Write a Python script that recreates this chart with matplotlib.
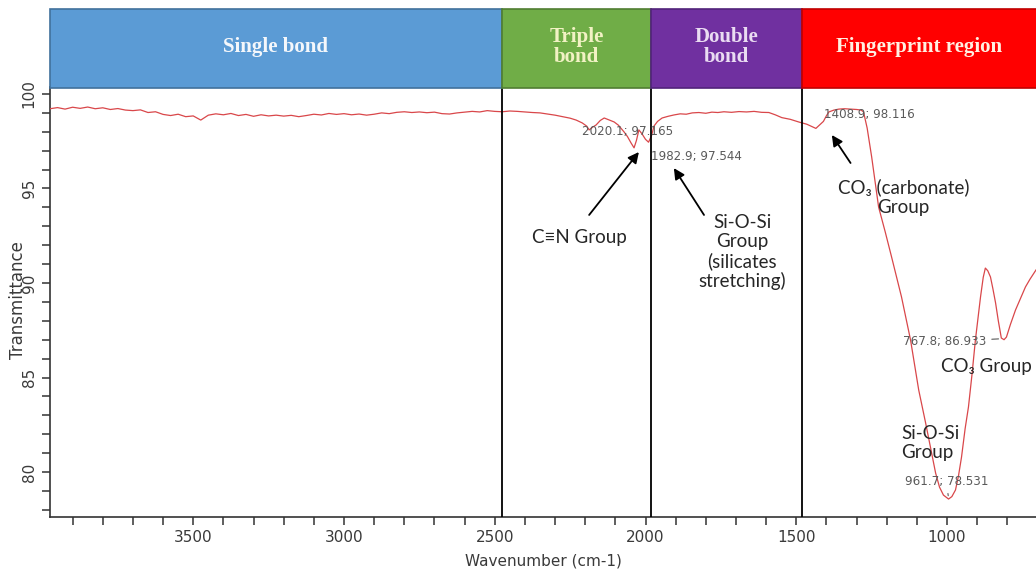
import numpy as np
import matplotlib
matplotlib.use('Agg')
import matplotlib.pyplot as plt
import matplotlib.transforms as mtransforms
from matplotlib.patches import Rectangle
from matplotlib.ticker import MultipleLocator

# spectrum: wavenumber (cm-1) -> transmittance
wavenumber = [3975, 3950, 3925, 3900, 3875, 3850, 3825, 3800, 3775, 3750,
              3725, 3700, 3675, 3650, 3625, 3600, 3575, 3550, 3525, 3500,
              3475, 3450, 3425, 3400, 3375, 3350, 3325, 3300, 3275, 3250,
              3225, 3200, 3175, 3150, 3125, 3100, 3075, 3050, 3025, 3000,
              2975, 2950, 2925, 2900, 2875, 2850, 2825, 2800, 2775, 2750,
              2725, 2700, 2675, 2650, 2625, 2600, 2575, 2550, 2525, 2500,
              2475, 2450, 2425, 2400, 2375, 2350, 2325, 2300, 2275, 2250,
              2230, 2210, 2195, 2187, 2175, 2164, 2150, 2137, 2120, 2104,
              2090, 2071, 2060, 2048, 2038, 2030, 2022, 2012, 2000, 1990,
              1980, 1972, 1960, 1945, 1925, 1906, 1885, 1865, 1845, 1823,
              1800, 1780, 1760, 1740, 1715, 1690, 1665, 1640, 1615, 1591,
              1570, 1548, 1520, 1492, 1465, 1445, 1435, 1420, 1410, 1400,
              1392, 1375, 1359, 1340, 1320, 1300, 1285, 1277, 1265, 1250,
              1227, 1205, 1184, 1151, 1121, 1094, 1071, 1055, 1038, 1025,
              1012, 995, 984, 972, 962, 952, 940, 929, 917, 906,
              897, 889, 880, 873, 865, 856, 848, 839, 830, 820,
              811, 803, 790, 773, 756, 740, 725, 705]
transmittance = [99.22, 99.28, 99.20, 99.30, 99.24, 99.31, 99.22, 99.27, 99.18, 99.23,
                 99.15, 99.12, 99.16, 99.02, 99.06, 98.92, 98.86, 98.93, 98.80, 98.84,
                 98.62, 98.88, 98.95, 98.90, 98.97, 98.86, 98.92, 98.82, 98.90, 98.84,
                 98.88, 98.83, 98.87, 98.80, 98.86, 98.93, 98.89, 98.97, 98.92, 98.96,
                 98.90, 98.94, 98.88, 98.93, 99.00, 98.96, 99.03, 99.06, 99.02, 99.05,
                 99.01, 99.04, 98.96, 98.94, 99.00, 99.04, 99.08, 99.05, 99.12, 99.08,
                 99.06, 99.10, 99.08, 99.05, 99.02, 99.00, 98.94, 98.88, 98.80, 98.72,
                 98.62, 98.47, 98.30, 98.10, 98.25, 98.36, 98.60, 98.73, 98.62, 98.52,
                 98.35, 97.99, 97.75, 97.41, 97.15, 97.55, 98.10, 97.90, 97.60, 97.45,
                 97.80, 98.30, 98.55, 98.73, 98.82, 98.89, 98.95, 98.93, 99.00, 99.02,
                 98.98, 99.04, 99.02, 99.06, 99.03, 99.07, 99.05, 99.08, 99.03, 99.02,
                 98.90, 98.75, 98.66, 98.52, 98.40, 98.25, 98.18, 98.40, 98.55, 98.85,
                 99.05, 99.15, 99.20, 99.22, 99.20, 99.18, 99.15, 99.05, 98.20, 96.67,
                 94.02, 92.70, 91.38, 89.26, 86.98, 84.34, 82.59, 81.30, 79.95, 79.20,
                 78.78, 78.57, 78.70, 79.05, 79.80, 80.79, 82.30, 83.44, 85.20, 86.98,
                 88.20, 89.26, 90.30, 90.79, 90.65, 90.32, 89.70, 88.94, 88.00, 87.09,
                 87.00, 87.14, 87.80, 88.57, 89.20, 89.79, 90.20, 90.69]

# header boxes above the plot
region_names = ['Single bond', 'Triple\nbond', 'Double\nbond', 'Fingerprint region']
region_edges = [3975, 2476, 1982, 1482, 705]

# peak picks printed by the instrument software
peak_labels = ['2020.1; 97.165', '1982.9; 97.544', '1408.9; 98.116',
               '767.8; 86.933', '961.7; 78.531']

# group assignments
group_labels = ['C≡N Group', 'Si-O-Si\nGroup\n(silicates\nstretching)',
                'CO₃ (carbonate)\nGroup', 'CO₃ Group', 'Si-O-Si\nGroup']


def draw():
    fig = plt.figure(figsize=(10.36, 5.72), dpi=100)
    ax = fig.add_axes([50 / 1036, 1 - 517 / 572, 986 / 1036, 430 / 572])
    ax.set_xlim(3975, 705)
    ax.set_ylim(77.62, 100.37)

    ax.plot(wavenumber, transmittance, color='#d9474a', lw=0.9, zorder=3)

    # boundaries between regions
    for x in region_edges[1:4]:
        ax.axvline(x, color='black', lw=1.3, zorder=4)

    # coloured header boxes (x in data, y in axes coordinates)
    trans = mtransforms.blended_transform_factory(ax.transData, ax.transAxes)
    box_colors = ['#5b9bd5', '#70ad47', '#7030a0', '#ff0000']
    box_edges = ['#41719c', '#507e32', '#51237a', '#c00000']
    text_colors = ['#f4f7fb', '#f2f2c4', '#eadcf2', '#fff0e2']
    for i, name in enumerate(region_names):
        x0 = region_edges[i]
        x1 = region_edges[i + 1]
        if i == 3:
            x1 = 600
        rect = Rectangle((x1, 0.997), x0 - x1, 0.185, transform=trans,
                         facecolor=box_colors[i], edgecolor=box_edges[i],
                         lw=1.2, clip_on=False, zorder=6)
        ax.add_patch(rect)
        xc = (region_edges[i] + region_edges[i + 1]) / 2
        ax.text(xc, 1.093, name, transform=trans, ha='center', va='center',
                fontfamily='Liberation Serif', fontweight='bold', fontsize=15,
                color=text_colors[i], linespacing=1.05, zorder=7, clip_on=False)

    # peak pick labels
    pk_kw = dict(fontsize=8.6, color='#5a5a5a', fontfamily='DejaVu Sans', zorder=5)
    ax.text(2210, 97.99, peak_labels[0], ha='left', va='center', **pk_kw)
    ax.text(1982, 96.67, peak_labels[1], ha='left', va='center', **pk_kw)
    ax.text(1409, 98.89, peak_labels[2], ha='left', va='center', **pk_kw)
    ax.annotate(peak_labels[3], xy=(820, 87.05), xytext=(870, 86.9),
                ha='right', va='center',
                arrowprops=dict(arrowstyle='-', color='#5a5a5a', lw=0.8), **pk_kw)
    ax.annotate(peak_labels[4], xy=(995, 78.6), xytext=(1002, 79.5),
                ha='center', va='center',
                arrowprops=dict(arrowstyle='-', color='#5a5a5a', lw=0.8), **pk_kw)

    # group labels with arrows
    g_kw = dict(fontsize=13.5, color='#262626', family=['Lato', 'DejaVu Sans'],
                ha='center', va='center', linespacing=1.15, zorder=5)
    arr = dict(arrowstyle='-|>', color='black', lw=1.3, mutation_scale=16,
               shrinkA=0, shrinkB=0)
    ax.text(2220, 92.43, group_labels[0], **g_kw)
    ax.annotate('', xy=(2022, 96.93), xytext=(2187, 93.6), arrowprops=arr, zorder=5)
    ax.text(1680, 91.64, group_labels[1], **g_kw)
    ax.annotate('', xy=(1906, 96.08), xytext=(1806, 93.6), arrowprops=arr, zorder=5)
    ax.text(1144, 94.55, group_labels[2], **g_kw)
    ax.annotate('', xy=(1382, 97.83), xytext=(1320, 96.35), arrowprops=arr, zorder=5)
    ax.text(869, 85.56, group_labels[3], **g_kw)
    g_kw['ha'] = 'left'
    ax.text(1151, 81.53, group_labels[4], **g_kw)

    # axes styling
    for s in ['top', 'right']:
        ax.spines[s].set_visible(False)
    for s in ['left', 'bottom']:
        ax.spines[s].set_color('#333333')
        ax.spines[s].set_linewidth(1.2)
    ax.xaxis.set_major_locator(MultipleLocator(500))
    ax.xaxis.set_minor_locator(MultipleLocator(100))
    ax.yaxis.set_major_locator(MultipleLocator(5))
    ax.yaxis.set_minor_locator(MultipleLocator(1))
    ax.tick_params(which='both', direction='out', length=6, width=1.1,
                   color='#333333', labelcolor='#3a3a3a', labelsize=11)
    ax.tick_params(axis='y', labelrotation=90)
    for lab in ax.get_yticklabels():
        lab.set_va('center')

    ax.set_xlabel('Wavenumber (cm-1)', fontsize=11, color='#3a3a3a', labelpad=6)
    fig.text(18 / 1036, 1 - 300 / 572, 'Transmittance', rotation=90,
             ha='center', va='center', fontsize=12, color='#3a3a3a')

    fig.savefig('out.png', dpi=100)


if __name__ == "__main__":
    draw()
